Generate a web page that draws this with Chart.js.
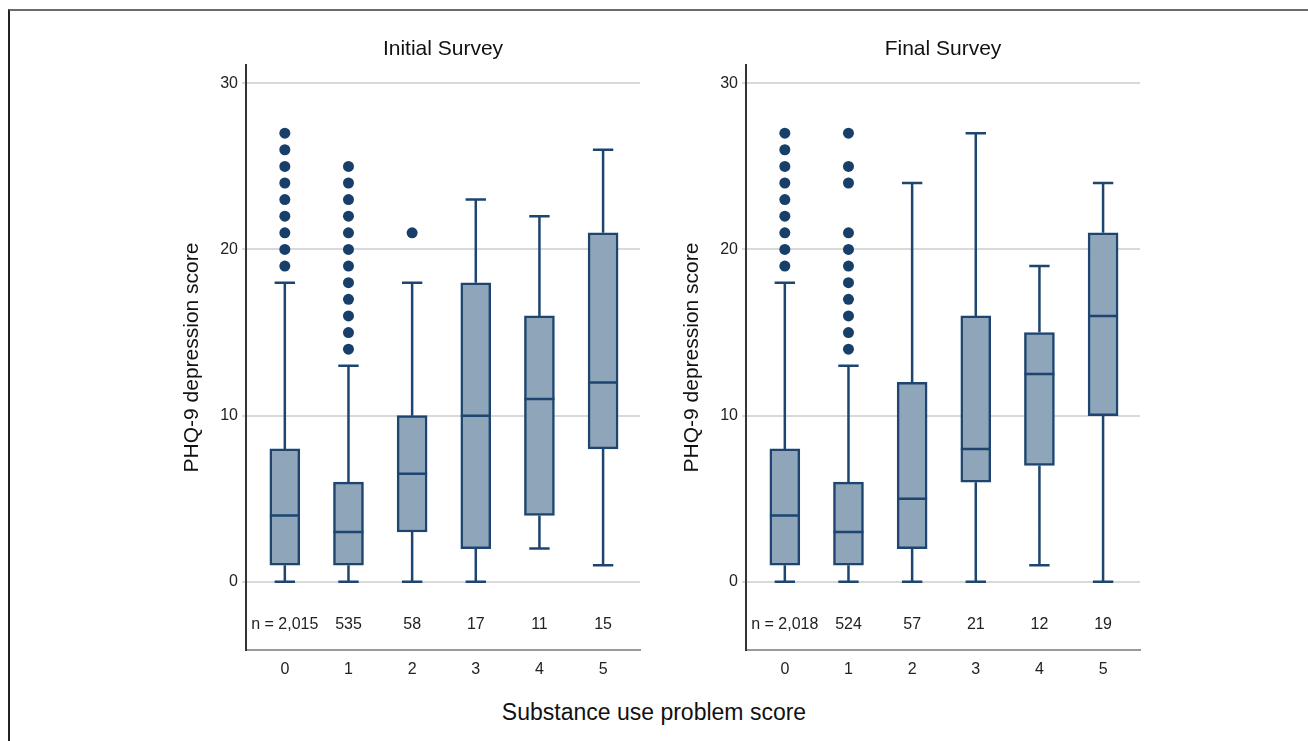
<!DOCTYPE html>
<html>
<head>
<meta charset="utf-8">
<script src="https://cdn.jsdelivr.net/npm/chart.js@4/dist/chart.umd.min.js"></script>
<style>
  html, body { margin: 0; padding: 0; background: #fff; }
  body { width: 1308px; height: 741px; position: relative; overflow: hidden; font-family: 'Liberation Sans', Arial, sans-serif; }
  .frame { position: absolute; left: 8px; top: 9px; width: 1400px; height: 800px; border-top: 2px solid #6b6b6b; border-left: 2px solid #222; }
  .panel { position: absolute; top: 20px; width: 474px; height: 670px; }
  #xTitle { position: absolute; left: 0; width: 1308px; top: 699px; text-align: center; font-size: 23px; color: #111; }
</style>
</head>
<body>
<div class="frame"></div>
<div class="panel" style="left:176px"><canvas id="initialChart"></canvas></div>
<div class="panel" style="left:676px"><canvas id="finalChart"></canvas></div>
<div id="xTitle">Substance use problem score</div>
<script>
// substance use problem score categories
const categories = [0, 1, 2, 3, 4, 5];
const yTicks = [0, 10, 20, 30];

// Initial survey: whisker low, q1, median, q3, whisker high
const initialLow = [0, 0, 0, 0, 2, 1];
const initialQ1 = [1, 1, 3, 2, 4, 8];
const initialMedian = [4, 3, 6.5, 10, 11, 12];
const initialQ3 = [8, 6, 10, 18, 16, 21];
const initialHigh = [18, 13, 18, 23, 22, 26];
const initialOutliers = [
    [19, 20, 21, 22, 23, 24, 25, 26, 27],
    [14, 15, 16, 17, 18, 19, 20, 21, 22, 23, 24, 25],
    [21],
    [], [], []
];
const initialN = ['n = 2,015', '535', '58', '17', '11', '15'];

// Final survey
const finalLow = [0, 0, 0, 0, 1, 0];
const finalQ1 = [1, 1, 2, 6, 7, 10];
const finalMedian = [4, 3, 5, 8, 12.5, 16];
const finalQ3 = [8, 6, 12, 16, 15, 21];
const finalHigh = [18, 13, 24, 27, 19, 24];
const finalOutliers = [
    [19, 20, 21, 22, 23, 24, 25, 26, 27],
    [14, 15, 16, 17, 18, 19, 20, 21, 24, 25, 27],
    [], [], [], []
];
const finalN = ['n = 2,018', '524', '57', '21', '12', '19'];

const FONT = "'Liberation Sans', Arial, sans-serif";
const BOX_FILL = '#8fa5ba';
const NAVY = '#1d4570';
const BOX_HALF = 0.235;   // in category units
const CAP_HALF = 0.16;

// panel title + n labels drawn against the chart's scales
const panelText = {
    id: 'panelText',
    afterDraw(chart, args, opts) {
        const { ctx, chartArea, scales } = chart;
        ctx.save();
        ctx.fillStyle = '#111';
        ctx.textAlign = 'center';
        ctx.textBaseline = 'middle';
        ctx.font = '21px ' + FONT;
        ctx.fillText(opts.title, (chartArea.left + chartArea.right) / 2, chartArea.top - 16);
        ctx.font = '16px ' + FONT;
        ctx.fillStyle = '#222';
        opts.counts.forEach((t, i) => {
            ctx.fillText(t, scales.x.getPixelForValue(categories[i]), scales.y.getPixelForValue(-2.6));
        });
        ctx.restore();
    }
};

function buildChart(id, title, low, q1, med, q3, high, outliers, counts) {
    const boxes = categories.map((c, i) => ({ x: c, y: [q1[i], q3[i]] }));

    const segs = [];
    const gap = c => segs.push({ x: c, y: null });
    categories.forEach((c, i) => {
        segs.push({ x: c, y: low[i] }, { x: c, y: q1[i] }); gap(c);
        segs.push({ x: c, y: q3[i] }, { x: c, y: high[i] }); gap(c);
        segs.push({ x: c - CAP_HALF, y: low[i] }, { x: c + CAP_HALF, y: low[i] }); gap(c);
        segs.push({ x: c - CAP_HALF, y: high[i] }, { x: c + CAP_HALF, y: high[i] }); gap(c);
        segs.push({ x: c - BOX_HALF, y: med[i] }, { x: c + BOX_HALF, y: med[i] }); gap(c);
    });

    const dots = [];
    categories.forEach((c, i) => outliers[i].forEach(v => dots.push({ x: c, y: v })));

    new Chart(document.getElementById(id), {
        type: 'bar',
        data: {
            datasets: [{
                type: 'bar',
                data: boxes,
                backgroundColor: BOX_FILL,
                borderColor: NAVY,
                borderWidth: 2.5,
                borderSkipped: false,
                barThickness: 30,
                order: 3
            }, {
                type: 'line',
                data: segs,
                borderColor: NAVY,
                borderWidth: 2.5,
                pointRadius: 0,
                spanGaps: false,
                fill: false,
                tension: 0,
                order: 2
            }, {
                type: 'line',
                data: dots,
                showLine: false,
                pointRadius: 5.5,
                pointBackgroundColor: '#173f6a',
                pointBorderColor: '#173f6a',
                pointBorderWidth: 0,
                order: 1
            }]
        },
        options: {
            responsive: true,
            maintainAspectRatio: false,
            animation: false,
            events: [],
            layout: { padding: { top: 45, right: 10, left: 0, bottom: 0 } },
            plugins: {
                legend: { display: false },
                tooltip: { enabled: false },
                panelText: { title: title, counts: counts }
            },
            scales: {
                x: {
                    type: 'linear',
                    offset: false,
                    min: -0.61,
                    max: 5.58,
                    afterBuildTicks: s => { s.ticks = categories.map(v => ({ value: v })); },
                    afterFit: s => { s.height = 40; },
                    ticks: { color: '#222', font: { family: FONT, size: 16 }, padding: 2 },
                    grid: { display: false, offset: false },
                    border: { color: '#9a9a9a', width: 2 }
                },
                y: {
                    min: -4.1,
                    max: 31.1,
                    afterBuildTicks: s => { s.ticks = yTicks.map(v => ({ value: v })); },
                    afterFit: s => { s.width = 70; },
                    ticks: { color: '#222', font: { family: FONT, size: 16 }, padding: 4 },
                    grid: { color: '#d9d9d9', lineWidth: 2, tickLength: 4 },
                    border: { color: '#333', width: 2 },
                    title: {
                        display: true,
                        text: 'PHQ-9 depression score',
                        color: '#111',
                        font: { family: FONT, size: 21 },
                        padding: { top: 4, bottom: 0 }
                    }
                }
            }
        },
        plugins: [panelText]
    });
}

buildChart('initialChart', 'Initial Survey', initialLow, initialQ1, initialMedian, initialQ3, initialHigh, initialOutliers, initialN);
buildChart('finalChart', 'Final Survey', finalLow, finalQ1, finalMedian, finalQ3, finalHigh, finalOutliers, finalN);
</script>
</body>
</html>
